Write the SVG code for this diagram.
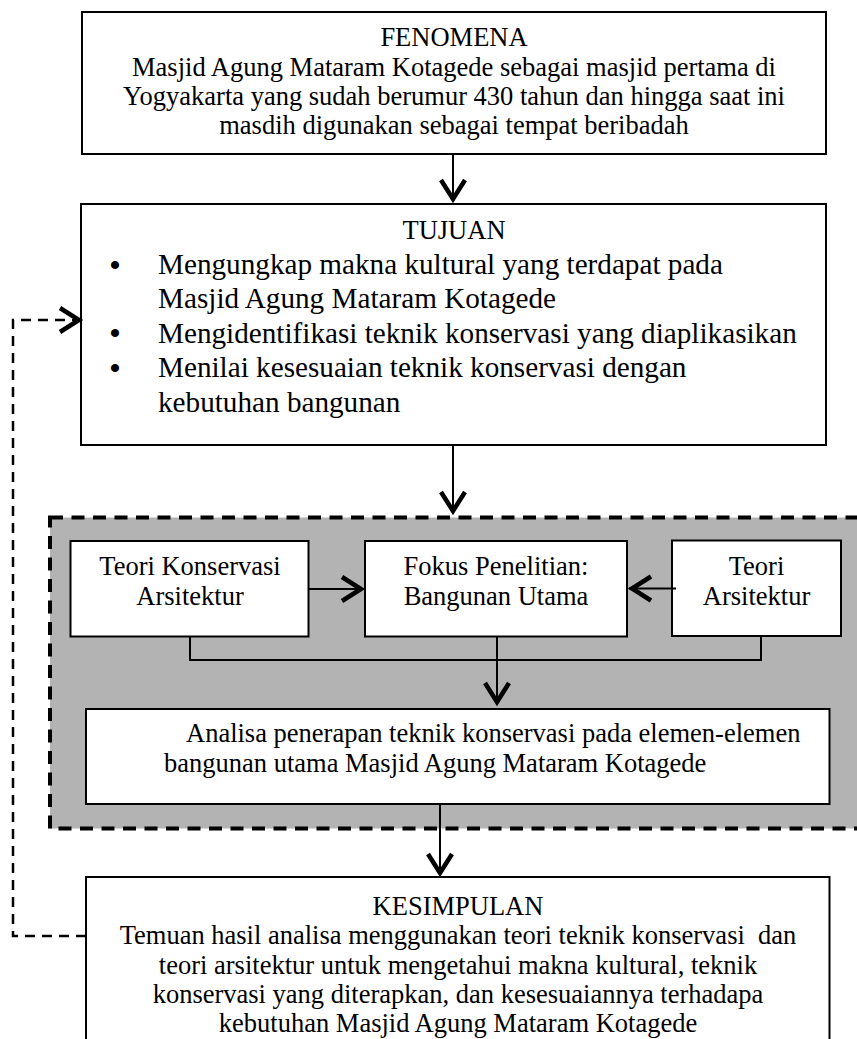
<svg xmlns="http://www.w3.org/2000/svg" width="857" height="1039" viewBox="0 0 857 1039">
<style>
.box{fill:#fff;stroke:#000;stroke-width:2}
.t{font-size:26.5px;fill:#000}
.b{font-size:29.2px}
.bu{font-size:30px;font-weight:bold}
.c{text-anchor:middle}
.ln{fill:none;stroke:#000;stroke-width:2}
.fb{fill:none;stroke:#000;stroke-width:2.5;stroke-dasharray:10 7}
</style>
<defs>
<marker id="chev" markerUnits="userSpaceOnUse" markerWidth="40" markerHeight="40" refX="0" refY="0" orient="auto" overflow="visible">
<path d="M-22,-12 L-3,0 L-22,12" fill="none" stroke="#000" stroke-width="4.5" stroke-dasharray="none"/>
</marker>
</defs>
<rect width="857" height="1039" fill="#fff"/>
<g font-family="Liberation Serif, DejaVu Serif, serif">
<g id="fokus-area">
<rect x="50" y="517.5" width="812" height="311" fill="#b3b3b3" stroke="#000" stroke-width="4" stroke-dasharray="13 8.5"/>
</g>
<g id="fenomena">
<rect class="box" x="82" y="12" width="744" height="142"/>
<text class="t c" x="454" y="46">FENOMENA</text>
<text class="t c" x="454" y="75.5">Masjid Agung Mataram Kotagede sebagai masjid pertama di</text>
<text class="t c" x="454" y="105">Yogyakarta yang sudah berumur 430 tahun dan hingga saat ini</text>
<text class="t c" x="454" y="134">masdih digunakan sebagai tempat beribadah</text>
</g>
<g id="tujuan">
<rect class="box" x="81" y="204" width="745" height="241"/>
<text class="t c" x="454" y="239">TUJUAN</text>
<text class="t bu c" x="115" y="274.5">•</text>
<text class="t b" x="158" y="274">Mengungkap makna kultural yang terdapat pada</text>
<text class="t b" x="158" y="308">Masjid Agung Mataram Kotagede</text>
<text class="t bu c" x="115" y="343">•</text>
<text class="t b" x="158" y="342.5">Mengidentifikasi teknik konservasi yang diaplikasikan</text>
<text class="t bu c" x="115" y="377.5">•</text>
<text class="t b" x="158" y="377">Menilai kesesuaian teknik konservasi dengan</text>
<text class="t b" x="158" y="411.5">kebutuhan bangunan</text>
</g>
<g id="teori-konservasi">
<rect class="box" x="70.5" y="541" width="238" height="95.5"/>
<text class="t c" x="190" y="575">Teori Konservasi</text>
<text class="t c" x="190" y="605">Arsitektur</text>
</g>
<g id="fokus-penelitian">
<rect class="box" x="365" y="541" width="262" height="95.5"/>
<text class="t c" x="496" y="575">Fokus Penelitian:</text>
<text class="t c" x="496" y="605">Bangunan Utama</text>
</g>
<g id="teori-arsitektur">
<rect class="box" x="672" y="540.5" width="169" height="95.5"/>
<text class="t c" x="756.5" y="575">Teori</text>
<text class="t c" x="756.5" y="605">Arsitektur</text>
</g>
<g id="analisa">
<rect class="box" x="86" y="709" width="743.5" height="95"/>
<text class="t" x="186" y="742">Analisa penerapan teknik konservasi pada elemen-elemen</text>
<text class="t" x="164" y="772">bangunan utama Masjid Agung Mataram Kotagede</text>
</g>
<g id="kesimpulan">
<rect class="box" x="86" y="877" width="743.5" height="175"/>
<text class="t c" x="458" y="915">KESIMPULAN</text>
<text class="t c" x="458" y="944.3" xml:space="preserve">Temuan hasil analisa menggunakan teori teknik konservasi  dan</text>
<text class="t c" x="458" y="973.6">teori arsitektur untuk mengetahui makna kultural, teknik</text>
<text class="t c" x="458" y="1002.9">konservasi yang diterapkan, dan kesesuaiannya terhadapa</text>
<text class="t c" x="458" y="1032">kebutuhan Masjid Agung Mataram Kotagede</text>
</g>
</g>
<g id="connectors">
<path class="ln" d="M453,154 V202" marker-end="url(#chev)"/>
<path class="ln" d="M453,445 V514" marker-end="url(#chev)"/>
<path class="ln" d="M309,589 H364" marker-end="url(#chev)"/>
<path class="ln" d="M676,588.5 H629" marker-end="url(#chev)"/>
<path class="ln" d="M190,636.5 V660 H761 V636"/>
<path class="ln" d="M497,636.5 V705" marker-end="url(#chev)"/>
<path class="ln" d="M440,804 V876" marker-end="url(#chev)"/>
<path class="fb" d="M86,936 H13 V320 H82" marker-end="url(#chev)"/>
</g>
</svg>
